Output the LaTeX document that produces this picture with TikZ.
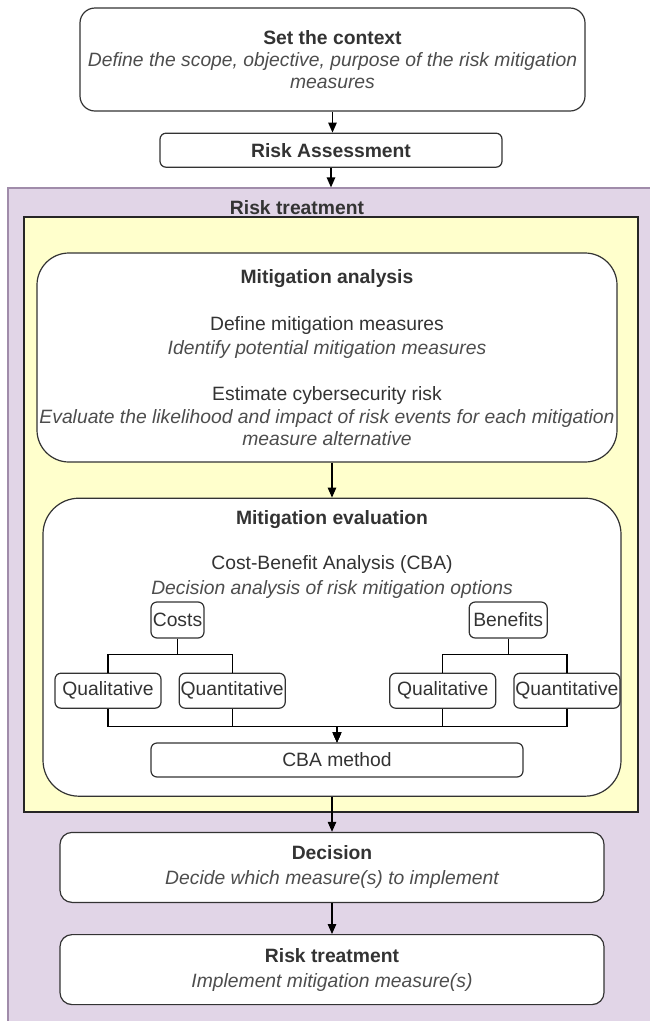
\documentclass[tikz,border=0pt]{standalone}
\usepackage{fontspec}
\setmainfont{Liberation Sans}
\usetikzlibrary{arrows.meta, positioning}
\definecolor{zonepurple}{HTML}{E1D5E7}
\definecolor{zoneedge}{HTML}{A08CAA}
\definecolor{zoneyellow}{HTML}{FFFFCC}
\definecolor{inkgray}{HTML}{333333}
\definecolor{softgray}{HTML}{4D4D4D}

\begin{document}
\begin{tikzpicture}[x=1pt, y=-1pt,
    % Define node styles
    box/.style={rectangle, draw=inkgray, line width=1.2pt, fill=white, rounded corners=6pt, align=center, inner sep=0pt, text=inkgray, font=\fontsize{19.3}{22}\selectfont},
    stage/.style={box, rounded corners=12pt, minimum width=544pt, minimum height=70pt},
    panel/.style={box, rounded corners=32pt},
    leaf/.style={box, minimum width=106pt, minimum height=35pt},
    zone/.style={rectangle, inner sep=0pt, line width=1.2pt},
    note/.style={inner sep=0pt, align=center, text=inkgray, font=\fontsize{19.3}{22}\selectfont},
    % Define edge style
    edge/.style={-{Triangle[length=10pt, width=8.5pt]}, line width=1.2pt},
    branch/.style={line width=1.2pt},
]
\useasboundingbox (0,0) rectangle (650,1021);
\clip (0,0) rectangle (650,1021);

% Drawing the background zones
\node[zone, fill=zonepurple, draw=zoneedge, minimum width=660pt, minimum height=845pt] (treatzone) at (338,610.5) {};
\node[zone, fill=zoneyellow, draw=black!85, minimum width=614pt, minimum height=595pt] (analysiszone) at (331,514.5) {};
\node[note, font=\fontsize{19.3}{22}\selectfont\bfseries, above=1.5pt of analysiszone.north, xshift=-34pt] (zonetitle) {Risk treatment};

% Drawing the steps before the treatment
\node[box, rounded corners=15pt, minimum width=505pt, minimum height=103pt] (context) at (332.5,59.5)
    {\textbf{Set the context}\\ {\color{softgray}\itshape Define the scope, objective, purpose of the risk mitigation}\\ {\color{softgray}\itshape measures}};
\node[box, minimum width=342pt, minimum height=34pt, below=21pt of context, xshift=-1.5pt] (assessment) {\textbf{Risk Assessment}};

% Drawing the analysis and evaluation panels
\node[panel, minimum width=580pt, minimum height=209pt, below=36pt of analysiszone.north, xshift=-4pt] (analysis)
    {\textbf{Mitigation analysis}\\[25pt]
     Define mitigation measures\\[2pt]
     {\color{softgray}\itshape Identify potential mitigation measures}\\[24pt]
     Estimate cybersecurity risk\\[1pt]
     {\color{softgray}\itshape Evaluate the likelihood and impact of risk events for each mitigation}\\
     {\color{softgray}\itshape measure alternative}};
\node[panel, rounded corners=36pt, minimum width=578pt, minimum height=298pt, below=35pt of analysis, xshift=5pt] (evaluation) {};
\node[note, below=12.5pt of evaluation.north] (evaltext)
    {\textbf{Mitigation evaluation}\\[23pt]
     Cost-Benefit Analysis (CBA)\\[3pt]
     {\color{softgray}\itshape Decision analysis of risk mitigation options}};

% Drawing the cost and benefit branches
\node[box, minimum width=53pt, minimum height=36pt] (costs) at (177.5,620) {Costs};
\node[box, minimum width=78pt, minimum height=36pt, right=264pt of costs] (benefits) {Benefits};
\node[leaf, below=34pt of costs, xshift=-69.5pt] (costqual) {Qualitative};
\node[leaf, right=17pt of costqual] (costquant) {Quantitative};
\node[leaf, below=34pt of benefits, xshift=-65.5pt] (benefitqual) {Qualitative};
\node[leaf, right=17pt of benefitqual] (benefitquant) {Quantitative};
\node[box, minimum width=372pt, minimum height=34pt] (cbamethod) at (337,760) {CBA method};

% Drawing the final steps
\node[stage, below=35pt of evaluation] (decision)
    {\textbf{Decision}\\[3pt] {\color{softgray}\itshape Decide which measure(s) to implement}};
\node[stage, below=31pt of decision] (treatment)
    {\textbf{Risk treatment}\\[3pt] {\color{softgray}\itshape Implement mitigation measure(s)}};

% Connecting the main flow
\draw[edge] (context) -- (context.south |- assessment.north);
\draw[edge] (assessment.south) -- (assessment.south |- treatzone.north);
\draw[edge] (evaluation.north |- analysis.south) -- (evaluation.north);
\draw[edge] (evaluation.south) -- (decision.north);
\draw[edge] (decision.south) -- (treatment.north);

% Connecting costs and benefits to their kinds
\foreach \kind in {costqual, costquant} {
    \draw[branch] (costs.south) -- ++(0,16) -| (\kind.north);
}
\foreach \kind in {benefitqual, benefitquant} {
    \draw[branch] (benefits.south) -- ++(0,16) -| (\kind.north);
}

% Joining all kinds into the CBA method
\foreach \kind in {costqual, costquant, benefitqual, benefitquant} {
    \draw[edge] (\kind.south) -- ++(0,18) -| (cbamethod.north);
}

\end{tikzpicture}
\end{document}
